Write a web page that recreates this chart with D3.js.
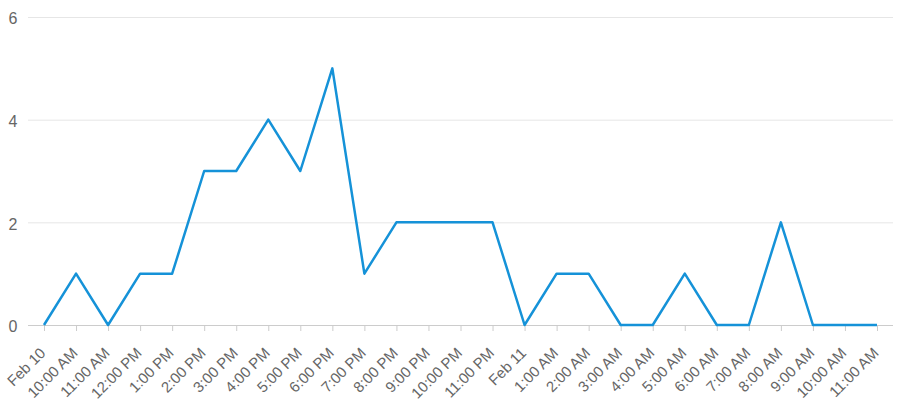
<!DOCTYPE html>
<html>
<head>
<meta charset="utf-8">
<script src="https://cdn.jsdelivr.net/npm/d3@7"></script>
<style>
  body { margin: 0; background: #fff; }
  text { font-family: "Liberation Sans", Arial, sans-serif; }
</style>
</head>
<body>
<script>
var width = 901,
    height = 417;

var categories = ["Feb 10", "10:00 AM", "11:00 AM", "12:00 PM", "1:00 PM", "2:00 PM",
    "3:00 PM", "4:00 PM", "5:00 PM", "6:00 PM", "7:00 PM", "8:00 PM", "9:00 PM",
    "10:00 PM", "11:00 PM", "Feb 11", "1:00 AM", "2:00 AM", "3:00 AM", "4:00 AM",
    "5:00 AM", "6:00 AM", "7:00 AM", "8:00 AM", "9:00 AM", "10:00 AM", "11:00 AM"];

var values = [0, 1, 0, 1, 1, 3, 3, 4, 3, 5, 1, 2, 2, 2, 2, 0, 1, 1, 0, 0, 1, 0, 0, 2, 0, 0, 0];

var yTicks = [0, 2, 4, 6];

var plot = {left: 28, right: 893, top: 17, bottom: 325};

var svg = d3.select("body").append("svg")
    .attr("width", width)
    .attr("height", height);

var x = d3.scalePoint()
    .domain(d3.range(categories.length))
    .range([44, 877]);

var y = d3.scaleLinear()
    .domain([0, 6])
    .range([plot.bottom, plot.top]);

// grid lines
svg.append("g")
  .selectAll("line")
    .data(yTicks.filter(function(d) { return d > 0; }))
  .enter().append("line")
    .attr("x1", plot.left)
    .attr("x2", plot.right)
    .attr("y1", function(d) { return y(d) + 0.5; })
    .attr("y2", function(d) { return y(d) + 0.5; })
    .attr("stroke", "#e6e6e6")
    .attr("stroke-width", 1);

// y labels
svg.append("g")
  .selectAll("text")
    .data(yTicks)
  .enter().append("text")
    .attr("x", 17.5)
    .attr("y", function(d) { return y(d); })
    .attr("dy", "0.45em")
    .attr("text-anchor", "end")
    .attr("fill", "#666")
    .style("font-size", "16px")
    .text(function(d) { return d; });

// x axis
var xAxis = d3.axisBottom(x)
    .tickSize(6)
    .tickFormat(function(i) { return categories[i]; });

var gx = svg.append("g")
    .attr("transform", "translate(0," + plot.bottom + ")")
    .call(xAxis);

gx.select(".domain").remove();
gx.insert("line", ":first-child")
    .attr("x1", plot.left)
    .attr("x2", plot.right)
    .attr("y1", 0.5)
    .attr("y2", 0.5)
    .attr("stroke", "#ccc")
    .attr("stroke-width", 1);
gx.selectAll(".tick line")
    .attr("stroke", "#ccc")
    .attr("y1", 0.5);
gx.selectAll(".tick text")
    .attr("fill", "#666")
    .attr("text-anchor", "end")
    .attr("x", 0)
    .attr("y", 0)
    .attr("dy", 0)
    .attr("transform", "translate(2,29) rotate(-45)")
    .style("font-size", "15px")
    .style("font-family", "\"Liberation Sans\", Arial, sans-serif");

// line
var line = d3.line()
    .x(function(d, i) { return x(i); })
    .y(function(d) { return y(d); });

svg.append("path")
    .datum(values)
    .attr("d", line)
    .attr("fill", "none")
    .attr("stroke", "#1592d8")
    .attr("stroke-width", 2.5)
    .attr("stroke-linejoin", "round");
</script>
</body>
</html>
